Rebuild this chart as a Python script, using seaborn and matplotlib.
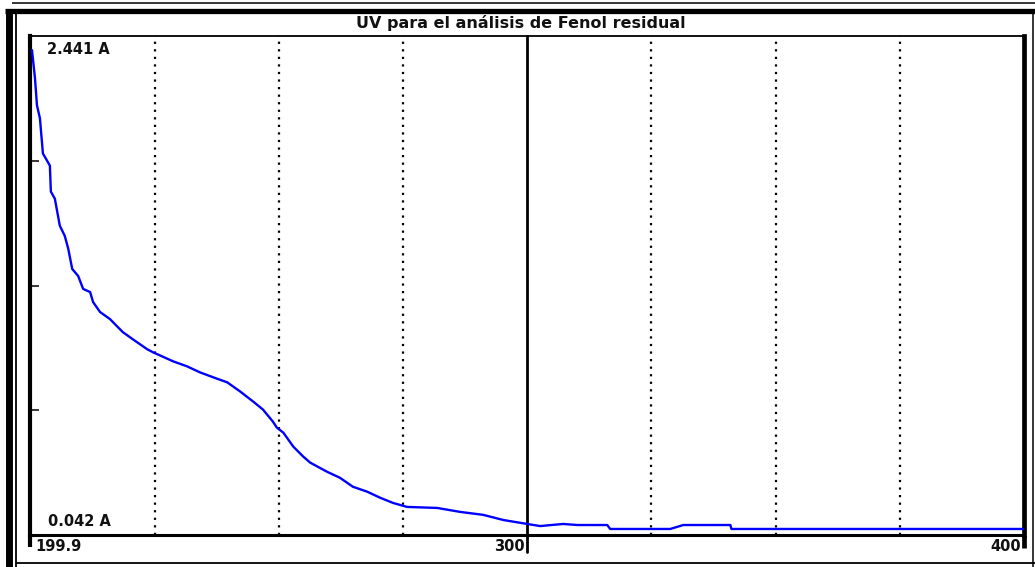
import matplotlib
matplotlib.use("Agg")
import matplotlib.pyplot as plt
import matplotlib.transforms as mtransforms
from matplotlib.lines import Line2D
import pandas as pd
import seaborn as sns

# UV spectrum of residual phenol: wavelength (nm) vs absorbance (A)
wavelength_nm = [
    200.3, 200.9, 201.3, 201.9, 202.5, 203.9, 204.1, 204.9, 205.9, 206.9,
    207.6, 208.4, 209.6, 210.6, 212.0, 212.6, 214.0, 216.0, 217.4, 218.6,
    220.6, 223.5, 224.7, 228.7, 231.5, 234.1, 236.8, 239.6, 242.2, 244.8,
    246.8, 248.8, 249.6, 250.9, 252.9, 254.9, 256.3, 259.7, 262.3, 264.9,
    267.8, 270.4, 273.0, 275.8, 281.9, 286.5, 291.1, 295.2, 300.0, 302.6,
    307.2, 310.1, 316.1, 316.7, 328.8, 331.4, 340.9, 341.1, 400.0,
]
absorbance = [
    2.373, 2.238, 2.108, 2.045, 1.876, 1.818, 1.693, 1.659, 1.529, 1.480,
    1.418, 1.321, 1.287, 1.225, 1.210, 1.162, 1.114, 1.080, 1.046, 1.017,
    0.983, 0.935, 0.920, 0.877, 0.853, 0.824, 0.800, 0.776, 0.732, 0.684,
    0.645, 0.587, 0.558, 0.534, 0.467, 0.419, 0.390, 0.346, 0.317, 0.274,
    0.250, 0.221, 0.196, 0.177, 0.172, 0.153, 0.139, 0.114, 0.095, 0.085,
    0.095, 0.090, 0.090, 0.071, 0.071, 0.090, 0.090, 0.071, 0.071,
]

x_range = (199.9, 400.0)
y_range = (0.042, 2.441)
dotted_nm = [225, 250, 275, 325, 350, 375]
solid_nm = 300
x_tick_labels = ["199.9", "300", "400"]
y_range_labels = ["2.441 A", "0.042 A"]
title = "UV para el análisis de Fenol residual"

sns.set_style("white")
plt.rcParams["font.family"] = ["DejaVu Sans"]

W, H = 1035, 567
fig = plt.figure(figsize=(W / 100, H / 100), dpi=100)
fig.patch.set_facecolor("white")


def fx(px):
    return px / W


def fy(py):
    return 1 - py / H


# plot panel
ax_left, ax_right, ax_top, ax_bottom = 30, 1024, 36, 535
ax = fig.add_axes([fx(ax_left), fy(ax_bottom),
                   (ax_right - ax_left) / W, (ax_bottom - ax_top) / H])
ax.set_facecolor("white")

df = pd.DataFrame({"nm": wavelength_nm, "A": absorbance})
sns.lineplot(data=df, x="nm", y="A", ax=ax, color=(0, 0, 1), lw=1.7,
             estimator=None, sort=True, zorder=3)

ax.set_xlim(*x_range)
ax.set_ylim(*y_range)
ax.set_xlabel("")
ax.set_ylabel("")

for v in dotted_nm:
    ax.axvline(v, color="black", lw=1.6, linestyle=(0, (1, 2.4)), zorder=1)
ax.plot([solid_nm, solid_nm], [-0.035, 1], color="black", lw=2.0,
        transform=ax.get_xaxis_transform(), clip_on=False, zorder=2)

# y ticks at quarter divisions, pointing inward
span = y_range[1] - y_range[0]
ax.set_yticks([y_range[0] + span * f for f in (0.25, 0.5, 0.75)])
ax.set_xticks([])
ax.tick_params(axis="y", direction="in", length=6.5, width=1.3,
               labelleft=False, left=True)

for side, lw in (("left", 3.0), ("right", 3.4), ("bottom", 2.2), ("top", 1.3)):
    ax.spines[side].set_visible(True)
    ax.spines[side].set_color("black")
    ax.spines[side].set_linewidth(lw)

font = dict(fontsize=10.5, fontweight="bold", color="#111111")
xt = ax.get_xaxis_transform()
ax.text(x_range[0], -0.024, x_tick_labels[0], ha="left", va="center",
        transform=mtransforms.offset_copy(xt, fig, x=5, units="dots"), **font)
ax.text(solid_nm, -0.024, x_tick_labels[1], ha="right", va="center",
        transform=mtransforms.offset_copy(xt, fig, x=-3, units="dots"), **font)
ax.text(x_range[1], -0.024, x_tick_labels[2], ha="right", va="center",
        transform=mtransforms.offset_copy(xt, fig, x=-3, units="dots"), **font)

ax.text(0.017, 0.972, y_range_labels[0], ha="left", va="center",
        transform=ax.transAxes, **font)
ax.text(0.018, 0.028, y_range_labels[1], ha="left", va="center",
        transform=ax.transAxes, **font)

fig.text(fx(521), fy(23), title, ha="center", va="center",
         fontsize=11.5, fontweight="bold", color="#111111")


def hline(x0, x1, y, lw):
    fig.add_artist(Line2D([fx(x0), fx(x1)], [fy(y), fy(y)], color="black",
                          lw=lw, transform=fig.transFigure,
                          solid_capstyle="butt"))


def vline(x, y0, y1, lw):
    fig.add_artist(Line2D([fx(x), fx(x)], [fy(y0), fy(y1)], color="black",
                          lw=lw, transform=fig.transFigure,
                          solid_capstyle="butt"))


# panel spines extending slightly below the baseline
vline(ax_left, ax_bottom, 547, 3.0)
vline(ax_right, ax_bottom, 548, 3.4)

# window frame
hline(12, W, 3, 1.1)
hline(5, W, 11, 3.8)
vline(9, 9, H, 5.0)
vline(16, 13, H, 1.3)
vline(1033, 13, H, 1.1)
hline(16, W, 563, 1.3)

fig.savefig("out.png", dpi=100, facecolor="white")
